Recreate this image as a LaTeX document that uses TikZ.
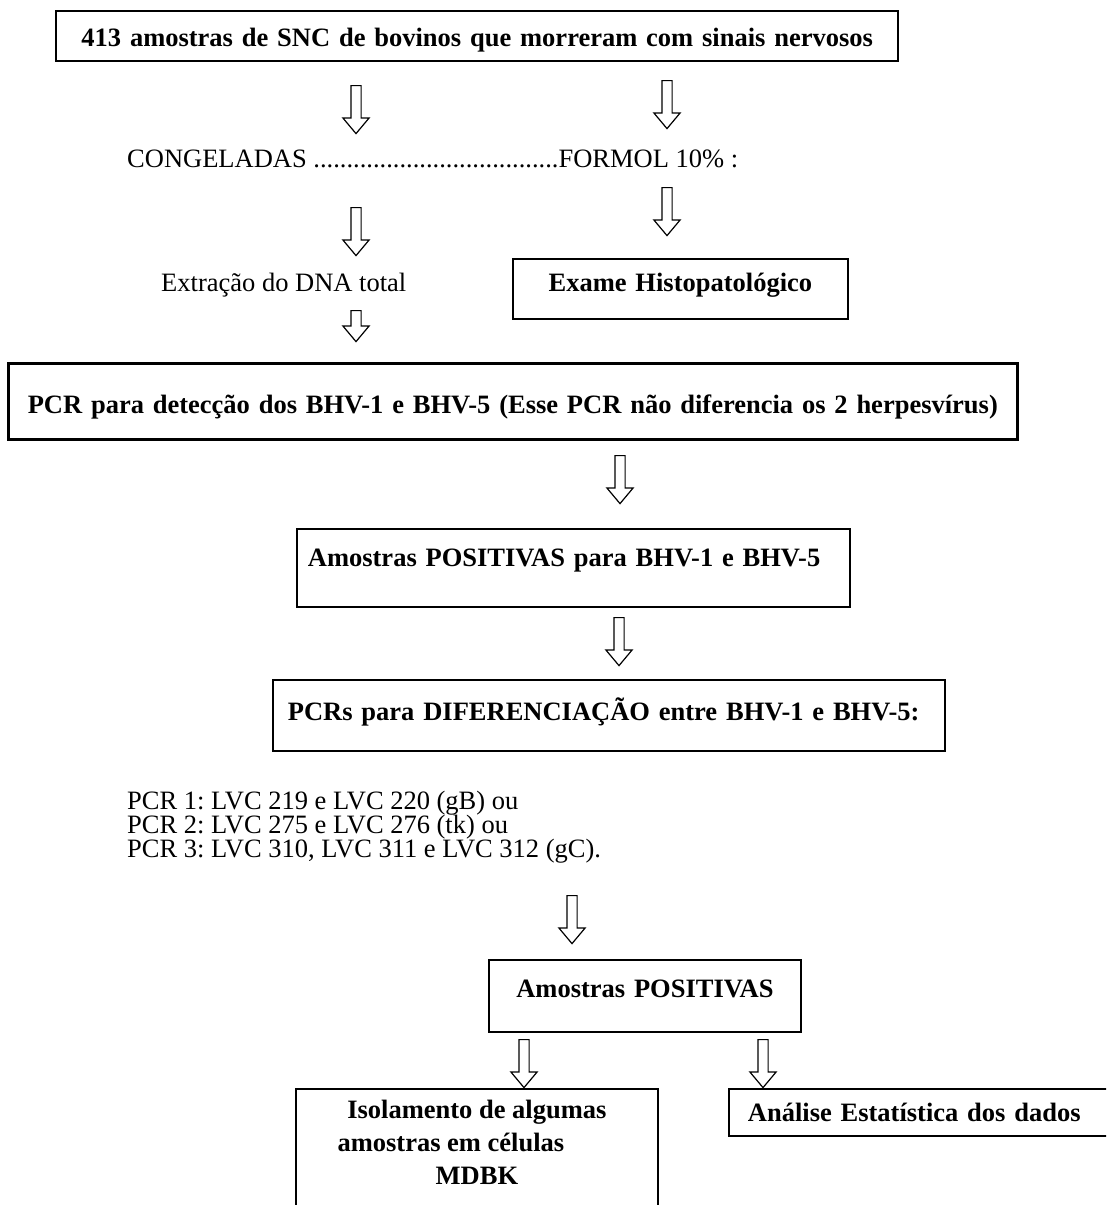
\documentclass[tikz,border=0pt]{standalone}
\usepackage{fontspec}
\setmainfont{Liberation Serif}
\usetikzlibrary{shapes.arrows, positioning, calc}
\frenchspacing
\setlength{\lineskiplimit}{-20pt}

\begin{document}
\begin{tikzpicture}[
        x=1pt, y=-1pt,
        every node/.style={font=\fontsize{26.5}{24}\selectfont},
        stage/.style={rectangle, draw=black, line width=1.8pt, anchor=north west, inner xsep=0pt, inner ysep=0pt, align=center, font=\fontsize{26.5}{33}\selectfont\bfseries},
        plain/.style={anchor=base west, inner sep=0pt},
        flow/.style={single arrow, draw=black, line width=1.2pt, shape border rotate=270, single arrow head extend=8pt, single arrow tip angle=80, inner sep=4.5pt, minimum height=48pt, anchor=tail}
    ]
        \path[use as bounding box, clip] (0,0) rectangle (1106,1205);

        % Amostras
        \node[stage, line width=2.4pt, text width=842pt, text height=35pt, text depth=15pt] (amostras) at (55,10) {413 amostras de SNC de bovinos que morreram com sinais nervosos};
        \node[flow] (s1) at (356,85) {};
        \node[flow] (s2) at (667,80) {};

        \node[plain] (conserv) at (127,167) {CONGELADAS .....................................FORMOL 10\% :};
        \node[flow] (s3) at (356,207) {};
        \node[flow] (s4) at (667,187) {};

        \node[plain] (extracao) at (161,291) {Extração do DNA total};
        \node[stage, text width=335pt, text height=33pt, text depth=27pt] (histo) at (512,258) {Exame Histopatológico};
        \node[flow, minimum height=31pt] (s5) at (356,310) {};

        % PCR geral
        \node[stage, line width=2.6pt, text width=1009pt, text height=50pt, text depth=26pt] (pcr) at (7,362) {PCR para detecção dos BHV-1 e BHV-5 (Esse PCR não diferencia os 2 herpesvírus)};
        \node[flow] (s6) at (620,455) {};

        \node[stage, align=left, inner xsep=11pt, text width=531pt, text height=38pt, text depth=40pt] (positivas) at (296,528) {Amostras POSITIVAS para BHV-1 e BHV-5};
        \node[flow] (s7) at (619,617) {};

        % PCRs de diferenciacao
        \node[stage, align=left, inner xsep=15pt, text width=642pt, text height=41pt, text depth=30pt] (difer) at (272,679) {PCRs para DIFERENCIAÇÃO entre BHV-1 e BHV-5:};
        \node[anchor=north west, inner sep=0pt, align=left] (primers) at (127,791) {PCR 1: LVC 219 e LVC 220 (gB) ou\\PCR 2: LVC 275 e LVC 276 (tk) ou\\PCR 3: LVC 310, LVC 311 e LVC 312 (gC).};
        \node[flow] (s8) at (572,895) {};

        \node[stage, text width=312pt, text height=38pt, text depth=34pt] (finais) at (488,959) {Amostras POSITIVAS};
        \node[flow] (s9) at (524,1039) {};
        \node[flow] (s10) at (763,1039) {};

        % Destinos
        \node[stage, minimum width=362pt, minimum height=140pt] (isol) at (295,1088) {};
        \node[anchor=north, inner sep=0pt, align=center, font=\fontsize{26.5}{33}\selectfont\bfseries] (isoltxt) at ([yshift=-12pt]isol.north) {Isolamento de algumas\\amostras em células\hbox to 52pt{}\\MDBK};
        \node[stage, align=left, inner xsep=19pt, text width=382pt, text height=33pt, text depth=14pt] (estat) at (728,1088) {Análise Estatística dos dados};

\end{tikzpicture}
\end{document}
